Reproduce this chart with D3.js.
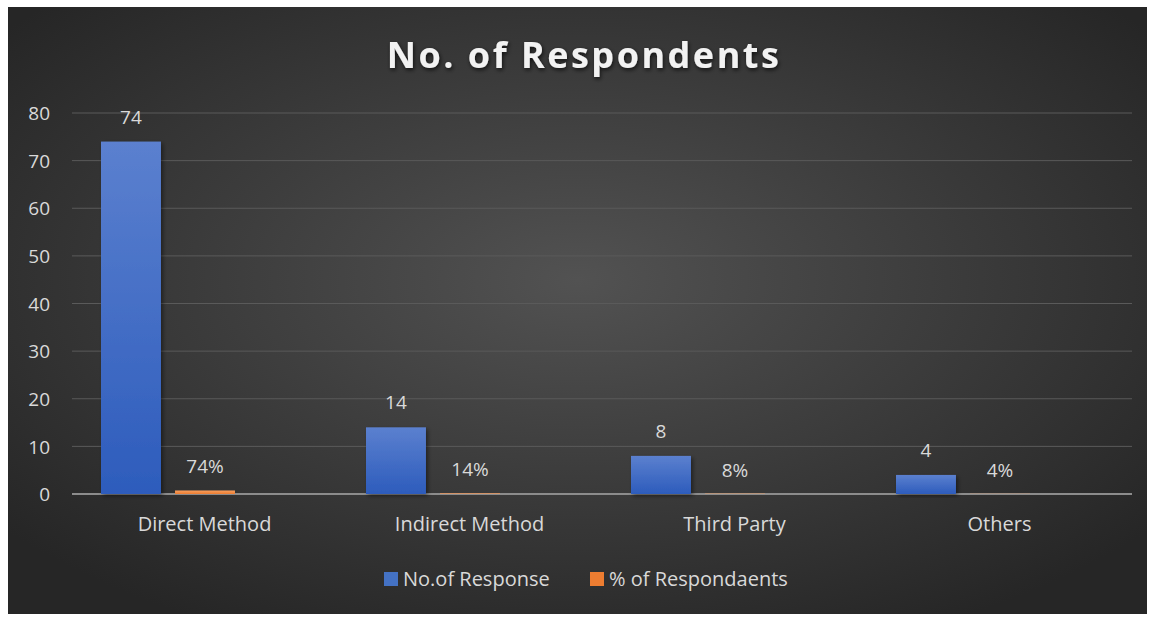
<!DOCTYPE html>
<html>
<head>
<meta charset="utf-8">
<script src="https://cdn.jsdelivr.net/npm/d3@7"></script>
<style>
  body { margin: 0; background: #fff; }
  svg text { font-family: "Open Sans", "Noto Sans", sans-serif; }
</style>
</head>
<body>
<script>
var categories = ["Direct Method", "Indirect Method", "Third Party", "Others"];
var responses = [74, 14, 8, 4];
var percents = [0.74, 0.14, 0.08, 0.04];
var percentLabels = ["74%", "14%", "8%", "4%"];
var seriesNames = ["No.of Response", "% of Respondaents"];
var yTicks = [0, 10, 20, 30, 40, 50, 60, 70, 80];

var W = 1155, H = 617;
var svg = d3.select("body").append("svg").attr("width", W).attr("height", H);
var defs = svg.append("defs");

var bg = defs.append("radialGradient").attr("id", "bg")
  .attr("cx", "50%").attr("cy", "45%").attr("r", "65%");
bg.append("stop").attr("offset", "0%").attr("stop-color", "#525252");
bg.append("stop").attr("offset", "100%").attr("stop-color", "#262626");

var gb = defs.append("linearGradient").attr("id", "blue").attr("x1", 0).attr("y1", 0).attr("x2", 0).attr("y2", 1);
gb.append("stop").attr("offset", "0%").attr("stop-color", "#5b80cf");
gb.append("stop").attr("offset", "100%").attr("stop-color", "#2d5cbc");
var go = defs.append("linearGradient").attr("id", "orange").attr("x1", 0).attr("y1", 0).attr("x2", 0).attr("y2", 1);
go.append("stop").attr("offset", "0%").attr("stop-color", "#f9a060");
go.append("stop").attr("offset", "100%").attr("stop-color", "#ec7c30");

var sh = defs.append("filter").attr("id", "tshadow").attr("x", "-10%").attr("y", "-30%").attr("width", "120%").attr("height", "160%");
sh.append("feDropShadow").attr("dx", 1).attr("dy", 2).attr("stdDeviation", 2).attr("flood-color", "#000").attr("flood-opacity", 0.7);
var bs = defs.append("filter").attr("id", "bshadow").attr("x", "-20%").attr("y", "-20%").attr("width", "140%").attr("height", "140%");
bs.append("feDropShadow").attr("dx", 2).attr("dy", 2).attr("stdDeviation", 2).attr("flood-color", "#000").attr("flood-opacity", 0.45);

svg.append("rect").attr("x", 8).attr("y", 7).attr("width", 1139).attr("height", 607).attr("fill", "url(#bg)");

svg.append("text").attr("x", 584).attr("y", 68).attr("text-anchor", "middle")
  .attr("font-size", 36).attr("font-weight", "bold").attr("letter-spacing", 2.5)
  .attr("fill", "#f2f2f2").attr("filter", "url(#tshadow)")
  .text("No. of Respondents");

var plotL = 72, plotR = 1132, plotT = 113, plotB = 494;
var y = d3.scaleLinear().domain([0, 80]).range([plotB, plotT]);
var x0 = d3.scaleBand().domain(categories).range([plotL, plotR]);
// three slots per category (Excel layout keeps an empty third slot)
var x1 = d3.scaleBand().domain([0, 1, 2]).range([29, x0.bandwidth() - 28]).paddingInner(0.19);

var grid = svg.append("g");
grid.selectAll("line").data(yTicks.slice(1)).enter().append("line")
  .attr("x1", plotL).attr("x2", plotR)
  .attr("y1", function(d){ return y(d); }).attr("y2", function(d){ return y(d); })
  .attr("stroke", "#5a5a5a").attr("stroke-width", 1);

var yAxis = svg.append("g").attr("transform", "translate(" + (plotL - 22) + ",0)")
  .call(d3.axisLeft(y).tickValues(yTicks).tickSize(0).tickPadding(0));
yAxis.select(".domain").remove();
yAxis.selectAll("text").attr("font-size", 19).attr("fill", "#d9d9d9").attr("dy", "0.35em");

svg.append("line").attr("x1", plotL).attr("x2", plotR).attr("y1", y(0)).attr("y2", y(0))
  .attr("stroke", "#8c8c8c").attr("stroke-width", 2);

var groups = svg.selectAll(".grp").data(categories).enter().append("g")
  .attr("class", "grp")
  .attr("transform", function(d){ return "translate(" + x0(d) + ",0)"; });

groups.append("rect").attr("x", x1(0)).attr("width", x1.bandwidth())
  .attr("y", function(d, i){ return y(responses[i]); })
  .attr("height", function(d, i){ return y(0) - y(responses[i]); })
  .attr("fill", "url(#blue)").attr("filter", "url(#bshadow)");
groups.append("rect").attr("x", x1(1)).attr("width", x1.bandwidth())
  .attr("y", function(d, i){ return y(percents[i]); })
  .attr("height", function(d, i){ return y(0) - y(percents[i]); })
  .attr("fill", "url(#orange)");

groups.append("text").attr("x", x1(0) + x1.bandwidth() / 2)
  .attr("y", function(d, i){ return y(responses[i]) - 18; })
  .attr("text-anchor", "middle").attr("font-size", 19).attr("fill", "#d9d9d9")
  .text(function(d, i){ return responses[i]; });
groups.append("text").attr("x", x1(1) + x1.bandwidth() / 2)
  .attr("y", function(d, i){ return y(percents[i]) - 17; })
  .attr("text-anchor", "middle").attr("font-size", 19).attr("fill", "#d9d9d9")
  .text(function(d, i){ return percentLabels[i]; });

var xAxis = svg.append("g").attr("transform", "translate(0," + (plotB + 23) + ")")
  .call(d3.axisBottom(x0).tickSize(0).tickPadding(0));
xAxis.select(".domain").remove();
xAxis.selectAll("text").attr("font-size", 20).attr("fill", "#d9d9d9").attr("dy", "0.71em");

var legend = svg.append("g").attr("transform", "translate(384,579)");
var legColors = ["#4472c4", "#ed7d31"];
var legX = [0, 206];
seriesNames.forEach(function(n, i){
  legend.append("rect").attr("x", legX[i]).attr("y", -7).attr("width", 14).attr("height", 14).attr("fill", legColors[i]);
  legend.append("text").attr("x", legX[i] + 19).attr("y", 0).attr("dy", "0.35em")
    .attr("font-size", 20).attr("fill", "#d9d9d9").text(n);
});
</script>
</body>
</html>
